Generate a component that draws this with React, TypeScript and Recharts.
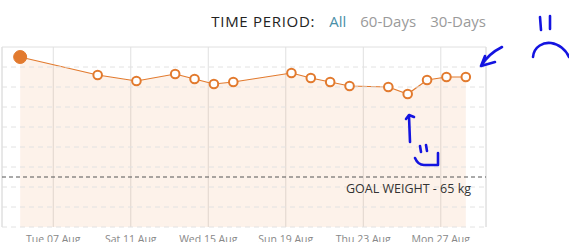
import React from 'react';
import { ComposedChart, Area, XAxis, YAxis, CartesianGrid, ReferenceLine } from 'recharts';

// weigh-in dates (all logged around 07:00)
const weighDates = [
  '2018-08-05', '2018-08-09', '2018-08-11', '2018-08-13', '2018-08-14', '2018-08-15',
  '2018-08-16', '2018-08-19', '2018-08-20', '2018-08-21', '2018-08-22', '2018-08-24',
  '2018-08-25', '2018-08-26', '2018-08-27', '2018-08-28',
];
const weights = [77.0, 75.2, 74.6, 75.3, 74.8, 74.3, 74.5, 75.4, 74.9, 74.5, 74.1, 74.0, 73.3, 74.7, 75.0, 75.0];

const tickDates = ['2018-08-07', '2018-08-11', '2018-08-15', '2018-08-19', '2018-08-23', '2018-08-27'];
const tickLabels = ['Tue 07 Aug', 'Sat 11 Aug', 'Wed 15 Aug', 'Sun 19 Aug', 'Thu 23 Aug', 'Mon 27 Aug'];

const yTicks = [60, 62, 64, 66, 68, 70, 72, 74, 76, 78];
const goalWeight = 65;
const rangeStart = '2018-08-04T08:30:00Z';
const rangeEnd = '2018-08-29T08:00:00Z';

const periods = ['All', '60-Days', '30-Days'];

const ORANGE = '#e27a2e';

const toTime = (s: string) => new Date(s.length > 10 ? s : s + 'T00:00:00Z').getTime();

const data = weighDates.map((d, i) => ({ t: toTime(d + 'T07:00:00Z'), w: weights[i] }));
const tickTimes = tickDates.map(toTime);
const xMin = toTime(rangeStart);
const xMax = toTime(rangeEnd);

const renderDot = (props: any) => {
  const { cx, cy, index } = props;
  if (index === 0) {
    return <circle key={index} cx={cx} cy={cy} r={6.5} fill={ORANGE} stroke={ORANGE} />;
  }
  return <circle key={index} cx={cx} cy={cy} r={4.3} fill="#fff" stroke={ORANGE} strokeWidth={2} />;
};

const GoalLabel = (props: any) => {
  const { viewBox } = props;
  return (
    <text
      x={viewBox.x + viewBox.width - 15}
      y={viewBox.y + 16}
      textAnchor="end"
      fill="#333"
      fontSize={12.5}
      fontFamily="Open Sans"
    >
      GOAL WEIGHT - {goalWeight} kg
    </text>
  );
};

const App: React.FC = () => {
  return (
    <div style={{ position: 'absolute', left: 0, top: 0, width: 569, height: 242, overflow: 'hidden', background: '#fff' }}>
      <div
        style={{
          position: 'absolute',
          right: 83,
          top: 11,
          fontFamily: 'Open Sans',
          fontSize: 15,
          color: '#222',
          whiteSpace: 'nowrap',
        }}
      >
        <span style={{ letterSpacing: 0.7 }}>TIME PERIOD:</span>
        {periods.map((p, i) => (
          <span key={p} style={{ marginLeft: 14, color: i === 0 ? '#4a8fa8' : '#9a9a9a' }}>
            {p}
          </span>
        ))}
      </div>

      <ComposedChart width={569} height={242} data={data} margin={{ top: 47, right: 83, left: 2, bottom: 0 }}>
        <CartesianGrid horizontal={false} vertical={true} stroke="#e0e0e0" />
        <XAxis
          dataKey="t"
          type="number"
          scale="time"
          domain={[xMin, xMax]}
          ticks={tickTimes}
          tickFormatter={(v: number) => tickLabels[tickTimes.indexOf(v)] ?? ''}
          axisLine={false}
          tickLine={false}
          tickMargin={3}
          height={15}
          interval={0}
          tick={{ fill: '#888', fontSize: 10.5, fontFamily: 'Open Sans' }}
        />
        <YAxis hide domain={[60, 78]} ticks={yTicks} interval={0} />
        {yTicks.slice(0, -1).map((v) => (
          <ReferenceLine key={v} y={v} stroke="#e2e2e2" strokeDasharray="5 4" />
        ))}
        <ReferenceLine y={78} stroke="#e0e0e0" />
        <ReferenceLine x={xMin} stroke="#e0e0e0" />
        <ReferenceLine x={xMax} stroke="#e0e0e0" />
        <Area
          type="linear"
          dataKey="w"
          stroke={ORANGE}
          strokeWidth={1.2}
          fill="#f08232"
          fillOpacity={0.1}
          dot={renderDot}
          activeDot={false}
          isAnimationActive={false}
        />
        <ReferenceLine y={goalWeight} stroke="#555" strokeDasharray="4 3" label={<GoalLabel />} />
      </ComposedChart>

      <svg width={569} height={242} style={{ position: 'absolute', left: 0, top: 0, pointerEvents: 'none' }}>
        <g fill="none" stroke="#1414e0" strokeWidth={2.6} strokeLinecap="round" strokeLinejoin="round">
          <path d="M540,17 L541,30 M550,16 L550,29" />
          <path d="M533,57 C534,46 544,42 551,43 C559,44 566,50 569,57" />
          <path d="M502,47 Q488,54 481,66 M481,66 L485,56 M481,66 L495,62" />
          <path d="M410,142 L409,116 M406,119 L409,115 L414,117" />
          <path d="M420,146 L421,152 M426,145 L427,151" />
          <path d="M415,158 Q418,165 424,165 L438,165 L438,153" />
        </g>
      </svg>
    </div>
  );
};

export default App;
